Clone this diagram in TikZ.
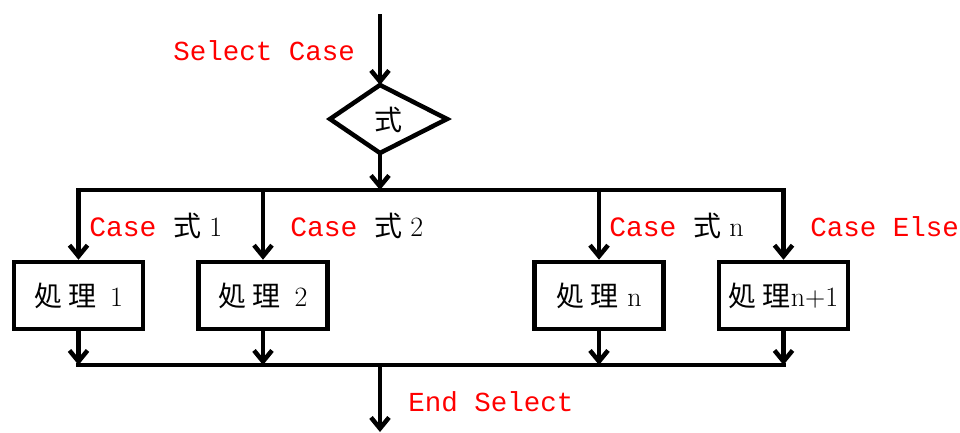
\documentclass[tikz,border=0pt]{standalone}
\usepackage{fontspec}
\newfontfamily\cjk{Noto Sans CJK JP}
\newfontfamily\mono{Liberation Mono}
\usetikzlibrary{arrows.meta}
\tikzset{
  proc/.style={draw,line width=4.5pt,minimum width=129pt,minimum height=67pt,inner sep=0pt,font=\fontsize{28}{32}\selectfont},
  kw/.style={text=red,font=\mono\fontsize{27.5}{32}\selectfont,inner sep=0pt},
  lbl/.style={font=\fontsize{28}{32}\selectfont,inner sep=0pt},
}
\newcommand{\kw}[1]{\textcolor{red}{\mono #1}}
\begin{document}
\begin{tikzpicture}[x=1pt,y=-1pt,line width=4.5pt,>={Straight Barb[length=11pt,width=18pt]}]
\useasboundingbox (0,0) rectangle (960,432);
% diamond
\coordinate (in) at (380,14);
\coordinate (dt) at (380,85);
\coordinate (dr) at (447,119);
\coordinate (db) at (380,153);
\coordinate (dl) at (330,119);
\draw[line join=miter] (dt)--(dr)--(db)--(dl)--cycle;
\node[lbl] (expr) at (388,120) {\cjk 式};
\draw[->] (in)--(dt);
\node[kw,anchor=base west] (sel) at (171,60) {Select Case};
% processes
\node[proc] (p1) at (78.5,295.5) {{\cjk 処\hspace{6pt}理}\hspace{14pt}1};
\node[proc] (p2) at (263,295.5) {{\cjk 処\hspace{6pt}理}\hspace{14pt}2};
\node[proc] (p3) at (599,295.5) {{\cjk 処\hspace{6pt}理}\hspace{9pt}n};
\node[proc] (p4) at (783.5,295.5) {{\cjk 処\hspace{6pt}理}n+1};
% branches
\coordinate (split) at (380,190);
\draw[->] (db)--(split);
\draw[->] (split)-|(p1);
\draw[->] (split)-|(p4);
\draw[->] (p2.north|-split)--(p2);
\draw[->] (p3.north|-split)--(p3);
\node[lbl,anchor=base west] (c1) at (87,236) {\kw{Case }{\cjk 式}\hspace{8pt}1};
\node[lbl,anchor=base west] (c2) at (288,236) {\kw{Case }{\cjk 式}\hspace{8pt}2};
\node[lbl,anchor=base west] (c3) at (607,236) {\kw{Case }{\cjk 式}\hspace{8pt}n};
\node[kw,anchor=base west] (c4) at (808,236) {Case Else};
% merge
\coordinate (merge) at (380,365);
\coordinate (out) at (380,432);
\draw[line cap=rect] (p1.south|-merge)--(p4.south|-merge);
\foreach \p in {p1,p2,p3,p4}
  \draw[->] (\p)--(\p.south|-merge);
\draw[->] (merge)--(out);
\node[kw,anchor=base west] (endsel) at (406,411) {End Select};
\end{tikzpicture}
\end{document}
